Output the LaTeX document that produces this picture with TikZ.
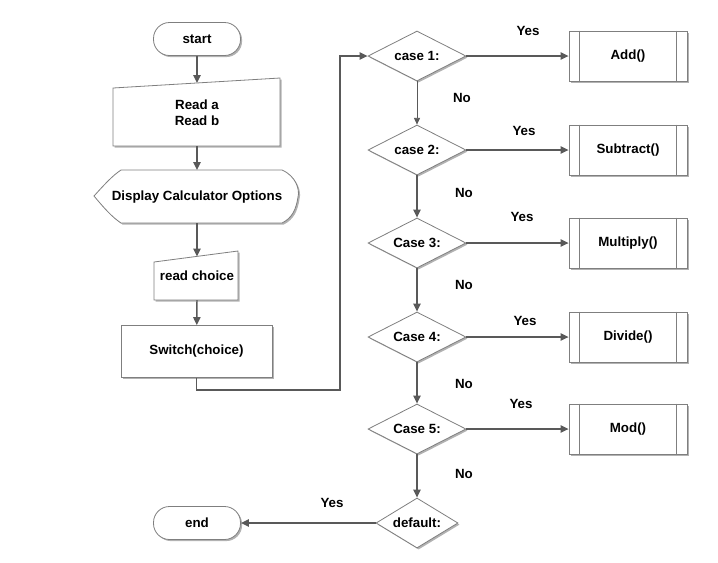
\documentclass[tikz,border=0pt]{standalone}
\usepackage{fontspec}
\setmainfont{Liberation Sans}
\usetikzlibrary{shapes.geometric,shadows,arrows.meta}
\definecolor{edgec}{HTML}{7F7F7F}
\definecolor{linec}{HTML}{595959}
\begin{document}
\begin{tikzpicture}[x=0.75pt,y=-0.75pt,
  font=\fontsize{10}{12}\selectfont\bfseries,
  shd/.style={drop shadow={shadow xshift=1.2pt,shadow yshift=-1.2pt,opacity=0.3,fill=black}},
  term/.style={draw=edgec,fill=white,rounded corners=12pt,minimum width=65.25pt,minimum height=24.75pt,inner sep=0pt,shd,line width=0.6pt},
  proc/.style={draw=edgec,fill=white,minimum width=113.25pt,minimum height=39pt,inner sep=0pt,shd,line width=0.6pt},
  pre/.style={draw=edgec,fill=white,minimum width=88.5pt,minimum height=37.5pt,inner sep=0pt,shd,line width=0.6pt},
  dec/.style={draw=edgec,fill=white,diamond,aspect=1.96,minimum width=73.5pt,minimum height=37.5pt,inner sep=0pt,line width=0.6pt,shd},
  shp/.style={draw=edgec,fill=white,line width=0.6pt,shd},
  txt/.style={inner sep=0pt,align=center},
  arr/.style={draw=linec,line width=1.1pt,-{Triangle[length=6pt,width=5.5pt]}},
  lbl/.style={inner sep=0pt}]
\useasboundingbox (0,0) rectangle (718,562);

% start
\node[term] (start) at (197,39) {start};

% Read a / Read b (manual input)
\path[shp] (113,88) -- (280,78) -- (280,146) -- (113,146) -- cycle;
\node[txt] (read) at (197,113) {Read a\\Read b};
\coordinate (readtop) at (197,83);
\coordinate (readbot) at (197,146);

% Display
\path[shp] (94,196) .. controls (104,185) and (112,176) .. (121,170) -- (282,170)
  .. controls (296,176) and (300,190) .. (298,197)
  .. controls (296,210) and (292,218) .. (282,223) -- (121,223)
  .. controls (112,217) and (104,208) .. (94,196) -- cycle;
\node[txt] (disp) at (197,197) {Display Calculator Options};
\coordinate (disptop) at (197,170);
\coordinate (dispbot) at (197,223);

% read choice
\path[shp] (154,262) -- (238,251) -- (238,300) -- (154,300) -- cycle;
\node[txt] (rc) at (197,276) {read choice};
\coordinate (rctop) at (197,256.5);
\coordinate (rcbot) at (197,300);

% switch
\node[proc] (sw) at (196.5,351.5) {Switch(choice)};

% decisions
\node[dec] (c1) at (417,56) {case 1:};
\node[dec] (c2) at (417,150) {case 2:};
\node[dec] (c3) at (417,243) {Case 3:};
\node[dec] (c4) at (417,337) {Case 4:};
\node[dec] (c5) at (417,429) {Case 5:};
\node[dec,minimum width=61.5pt] (df) at (417,523) {default:};

% processes
\foreach \n/\y/\t in {p1/56/Add(),p2/150/Subtract(),p3/243/Multiply(),p4/337/Divide(),p5/429/Mod()}{
  \node[pre] (\n) at (628,\y) {\t};
  \draw[edgec,line width=0.6pt] ([xshift=8.25pt]\n.north west) -- ([xshift=8.25pt]\n.south west);
  \draw[edgec,line width=0.6pt] ([xshift=-8.25pt]\n.north east) -- ([xshift=-8.25pt]\n.south east);
}

% end
\node[term] (end) at (197,523) {end};

% connectors left column
\draw[arr] (start) -- (readtop);
\draw[arr] (readbot) -- (disptop);
\draw[arr] (dispbot) -- (rctop);
\draw[arr] (rcbot) -- (sw);
\draw[arr] (sw.south) |- (340,390) |- (c1.west);

% decision chain
\draw[draw=linec,line width=0.6pt,-{Triangle[length=5pt,width=4.5pt]}] (c1) -- (c2);
\draw[arr] (c2) -- (c3);
\draw[arr] (c3) -- (c4);
\draw[arr] (c4) -- (c5);
\draw[arr] (c5) -- (df);

\draw[arr] (c1) -- (p1);
\draw[arr] (c2) -- (p2);
\draw[arr] (c3) -- (p3);
\draw[arr] (c4) -- (p4);
\draw[arr] (c5) -- (p5);
\draw[arr] (df) -- (end);

% labels
\node[lbl] (y1) at (528,31) {Yes};
\node[lbl] (n1) at (462,98) {No};
\node[lbl] (y2) at (524,131) {Yes};
\node[lbl] (n2) at (464,193) {No};
\node[lbl] (y3) at (522,217) {Yes};
\node[lbl] (n3) at (464,285) {No};
\node[lbl] (y4) at (525,321) {Yes};
\node[lbl] (n4) at (464,384) {No};
\node[lbl] (y5) at (521,404) {Yes};
\node[lbl] (n5) at (464,474) {No};
\node[lbl] (y6) at (332,503) {Yes};
\end{tikzpicture}
\end{document}
